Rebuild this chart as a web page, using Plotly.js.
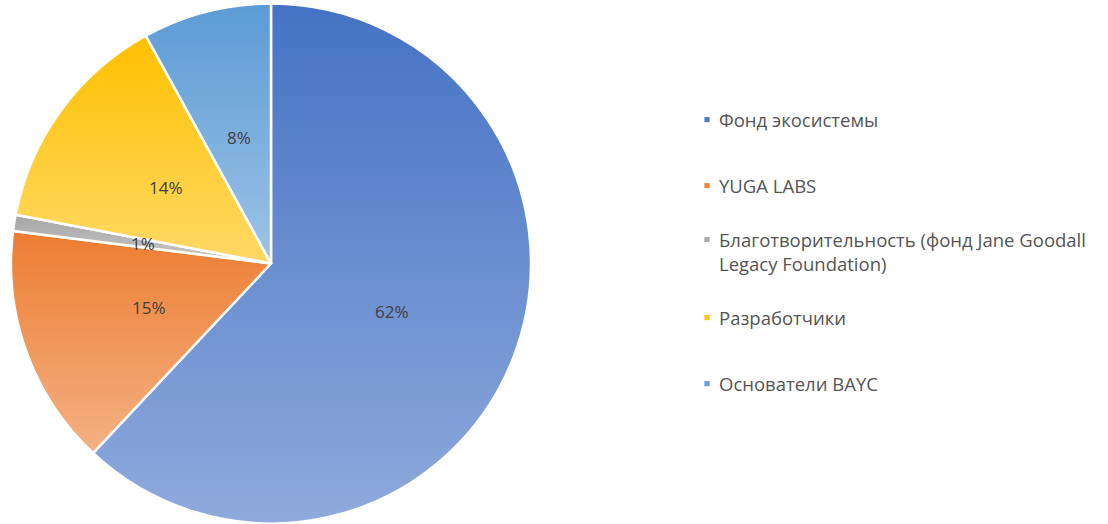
<!DOCTYPE html>
<html>
<head>
<meta charset="utf-8">
<script src="https://cdn.plot.ly/plotly-3.0.1.min.js"></script>
<style>
  html, body { margin: 0; padding: 0; background: #ffffff; }
  #chart { width: 1108px; height: 524px; }
</style>
</head>
<body>
<div id="chart"></div>
<script>
// ---- data ----
const labels = [
  "Фонд экосистемы",
  "YUGA LABS",
  "Благотворительность (фонд Jane Goodall<br>Legacy Foundation)",
  "Разработчики",
  "Основатели BAYC"
];
const values = [62, 15, 1, 14, 8];
const baseColors = ["#4f78c8", "#ee8540", "#a9a9a9", "#ffc31a", "#67a2d8"];
const gradTop    = ["#4472c4", "#ed7d31", "#a5a5a5", "#ffc000", "#5b9bd5"];
const gradBottom = ["#8faadc", "#f4b183", "#c9c9c9", "#ffd966", "#9dc3e6"];

// ---- geometry of the pie (figure pixels) ----
const W = 1108, H = 524;
const pieLeft = 11, pieRight = 531, pieBottom = 0.5, pieTop = 520.5; // from bottom
const cx = (pieLeft + pieRight) / 2, cy = (pieBottom + pieTop) / 2;
const R = Math.min(pieRight - pieLeft, pieTop - pieBottom) / 2;

const trace = {
  type: "pie",
  labels: labels,
  values: values,
  sort: false,
  direction: "clockwise",
  rotation: 0,
  marker: { colors: baseColors, line: { color: "#ffffff", width: 2.5 } },
  textinfo: "none",
  hoverinfo: "none",
  domain: { x: [pieLeft / W, pieRight / W], y: [pieBottom / H, pieTop / H] }
};

// data labels at half radius on each slice's bisector (as in the reference)
const total = values.reduce(function (a, b) { return a + b; }, 0);
const annotations = [];
let cum = 0;
values.forEach(function (v) {
  const mid = (cum + v / 2) / total * 2 * Math.PI;
  cum += v;
  const r = 0.5 * R;
  annotations.push({
    xref: "paper", yref: "paper",
    x: (cx + r * Math.sin(mid)) / W,
    y: (cy + r * Math.cos(mid)) / H,
    text: Math.round(v / total * 100) + "%",
    showarrow: false,
    xanchor: "center", yanchor: "middle",
    font: { family: "Open Sans, sans-serif", size: 17, color: "#404040" }
  });
});

const layout = {
  width: W,
  height: H,
  margin: { l: 0, r: 0, t: 0, b: 0 },
  paper_bgcolor: "#ffffff",
  showlegend: true,
  annotations: annotations,
  legend: {
    x: 679 / W,
    xanchor: "left",
    y: 1 - 101 / H,
    yanchor: "top",
    valign: "top",
    bgcolor: "rgba(0,0,0,0)",
    font: { family: "Open Sans, sans-serif", size: 18.5, color: "#555555" },
    itemclick: false,
    itemdoubleclick: false
  }
};

Plotly.newPlot("chart", [trace], layout, { staticPlot: true, displayModeBar: false }).then(function (gd) {
  // vertical gradients on each slice, as in the reference
  const svg = gd.querySelector("svg.main-svg");
  const NS = "http://www.w3.org/2000/svg";
  let defs = svg.querySelector("defs");
  if (!defs) { defs = document.createElementNS(NS, "defs"); svg.insertBefore(defs, svg.firstChild); }
  gradTop.forEach(function (c, i) {
    const lg = document.createElementNS(NS, "linearGradient");
    lg.setAttribute("id", "sliceGrad" + i);
    lg.setAttribute("x1", "0"); lg.setAttribute("y1", "0");
    lg.setAttribute("x2", "0"); lg.setAttribute("y2", "1");
    const s1 = document.createElementNS(NS, "stop");
    s1.setAttribute("offset", "0"); s1.setAttribute("stop-color", c);
    const s2 = document.createElementNS(NS, "stop");
    s2.setAttribute("offset", "1"); s2.setAttribute("stop-color", gradBottom[i]);
    lg.appendChild(s1); lg.appendChild(s2);
    defs.appendChild(lg);
  });
  gd.querySelectorAll("g.slice path.surface").forEach(function (p, i) {
    p.style.fill = "url(#sliceGrad" + i + ")";
  });

  // spread legend entries evenly, like the reference
  const legend = gd.querySelector("g.legend");
  if (legend) {
    legend.querySelectorAll("[clip-path]").forEach(function (el) { el.removeAttribute("clip-path"); });
    const items = legend.querySelectorAll("g.traces");
    const pitch = 66;
    let x0 = 0, y0 = 0;
    items.forEach(function (g, i) {
      const m = /translate\(\s*([-\d.]+)[ ,]+([-\d.]+)\s*\)/.exec(g.getAttribute("transform") || "");
      if (i === 0 && m) { x0 = parseFloat(m[1]); y0 = parseFloat(m[2]); }
      g.setAttribute("transform", "translate(" + x0 + "," + (y0 + i * pitch) + ")");
    });
    legend.querySelectorAll("g.legendpoints path").forEach(function (p) {
      p.setAttribute("transform", "translate(28,0) scale(0.55)");
    });
  }
});
</script>
</body>
</html>
